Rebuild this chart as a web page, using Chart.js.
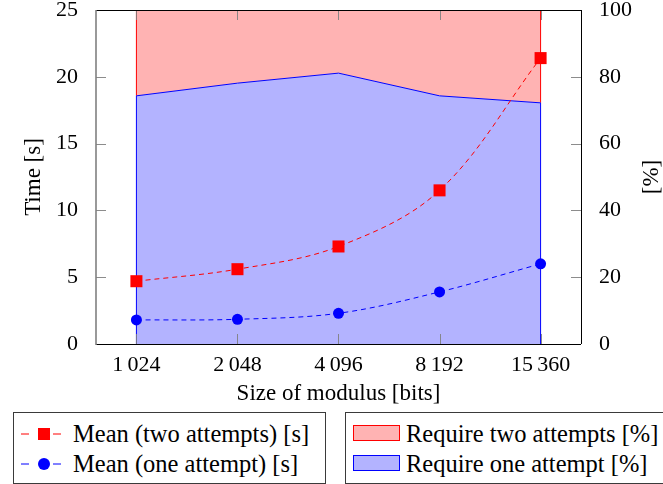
<!DOCTYPE html>
<html>
<head>
<meta charset="utf-8">
<script src="https://cdn.jsdelivr.net/npm/chart.js@4.4.1/dist/chart.umd.min.js"></script>
<style>
body { margin: 0; background: #fff; font-family: "Liberation Serif", serif; }
#wrap { position: relative; width: 663px; height: 484px; overflow: hidden; }
#box { position: absolute; left: 0; top: 0; width: 663px; height: 410px; }
.legend { position: absolute; top: 412px; height: 72px; border: 1px solid #3a3a3a; box-sizing: border-box; font-size: 24.5px; color: #000; }
.row { position: absolute; left: 0; height: 26px; line-height: 26px; white-space: nowrap; }
.row svg { position: absolute; }
.row span { position: absolute; }
</style>
</head>
<body>
<div id="wrap">
  <div id="box"><canvas id="myChart"></canvas></div>
  <div class="legend" style="left:13px;width:313px;">
    <div class="row" style="top:8px;">
      <svg width="42" height="16" style="left:7px;top:5px;"><line x1="0" y1="8" x2="8" y2="8" stroke="#f00"/><line x1="32" y1="8" x2="40" y2="8" stroke="#f00"/><rect x="17" y="2" width="12" height="12" fill="#f00"/></svg>
      <span style="left:59px;">Mean (two attempts) [s]</span>
    </div>
    <div class="row" style="top:38px;">
      <svg width="42" height="16" style="left:7px;top:5px;"><line x1="0" y1="8" x2="8" y2="8" stroke="#00f"/><line x1="32" y1="8" x2="40" y2="8" stroke="#00f"/><circle cx="23" cy="8" r="6" fill="#00f"/></svg>
      <span style="left:59px;">Mean (one attempt) [s]</span>
    </div>
  </div>
  <div class="legend" style="left:345px;width:330px;">
    <div class="row" style="top:8px;">
      <svg width="48" height="17" style="left:7px;top:4px;"><rect x="0.5" y="0.5" width="46" height="15" fill="#ffb3b3" stroke="#f00"/></svg>
      <span style="left:60px;">Require two attempts [%]</span>
    </div>
    <div class="row" style="top:38px;">
      <svg width="48" height="17" style="left:7px;top:4px;"><rect x="0.5" y="0.5" width="46" height="15" fill="#b3b3ff" stroke="#00f"/></svg>
      <span style="left:60px;">Require one attempt [%]</span>
    </div>
  </div>
</div>
<script>
const sizes = ['1\u2009024', '2\u2009048', '4\u2009096', '8\u2009192', '15\u2009360'];
const meanTwo = [4.7, 5.6, 7.3, 11.5, 21.4];
const meanOne = [1.8, 1.85, 2.3, 3.9, 6.0];
const pctOne = [74.3, 78.1, 81.1, 74.3, 72.2];
const pctTwo = [25.7, 21.9, 18.9, 25.7, 27.8];
const timeTicks = [0, 5, 10, 15, 20, 25];
const pctTicks = [0, 20, 40, 60, 80, 100];

const FONT = {family: '"Liberation Serif", serif', size: 22};
const TITLE_FONT = {family: '"Liberation Serif", serif', size: 23};

function pts(arr) {
	return arr.map(function(v, i) { return {x: i, y: v}; });
}

// ticks inside the box, frame, area edges and the right axis title
const boxPlugin = {
	id: 'boxPlugin',
	afterDatasetDraw(chart, args) {
		const ds = chart.data.datasets[args.index];
		if (!ds.fill) return;
		const ctx = chart.ctx, meta = args.meta;
		const first = meta.data[0], last = meta.data[meta.data.length - 1];
		let b0, b1;
		if (ds.fill === '-1') {
			const prev = chart.getDatasetMeta(args.index - 1).data;
			b0 = prev[0].y;
			b1 = prev[prev.length - 1].y;
		} else {
			b0 = b1 = chart.scales.y2.getPixelForValue(0);
		}
		ctx.save();
		ctx.strokeStyle = ds.borderColor;
		ctx.lineWidth = 1;
		ctx.beginPath();
		ctx.moveTo(first.x, b0); ctx.lineTo(first.x, first.y);
		ctx.moveTo(last.x, b1); ctx.lineTo(last.x, last.y);
		ctx.stroke();
		ctx.restore();
	},
	afterDatasetsDraw(chart) {
		const ctx = chart.ctx, a = chart.chartArea;
		const x = chart.scales.x, y = chart.scales.y, y2 = chart.scales.y2;
		const tl = 10;
		ctx.save();
		ctx.strokeStyle = 'rgba(128,128,128,0.9)';
		ctx.lineWidth = 1;
		ctx.beginPath();
		sizes.forEach(function(s, i) {
			const px = Math.round(x.getPixelForValue(i)) + 0.5;
			ctx.moveTo(px, a.bottom); ctx.lineTo(px, a.bottom - tl);
			ctx.moveTo(px, a.top); ctx.lineTo(px, a.top + tl);
		});
		timeTicks.forEach(function(v) {
			const py = Math.round(y.getPixelForValue(v)) + 0.5;
			ctx.moveTo(a.left, py); ctx.lineTo(a.left + tl, py);
		});
		pctTicks.forEach(function(v) {
			const py = Math.round(y2.getPixelForValue(v)) + 0.5;
			ctx.moveTo(a.right, py); ctx.lineTo(a.right - tl, py);
		});
		ctx.stroke();
		// frame
		ctx.strokeStyle = '#000';
		ctx.beginPath();
		ctx.moveTo(a.left, a.top + 0.5); ctx.lineTo(a.right, a.top + 0.5);
		ctx.moveTo(a.right + 0.5, a.top); ctx.lineTo(a.right + 0.5, a.bottom);
		ctx.moveTo(a.left, a.bottom + 0.5); ctx.lineTo(a.right, a.bottom + 0.5);
		ctx.stroke();
		ctx.strokeStyle = '#808080';
		ctx.lineWidth = 1.6;
		ctx.beginPath();
		ctx.moveTo(a.left, a.top); ctx.lineTo(a.left, a.bottom + 1);
		ctx.stroke();
		ctx.restore();
	},
	afterDraw(chart) {
		const ctx = chart.ctx, a = chart.chartArea;
		ctx.save();
		ctx.fillStyle = '#000';
		ctx.font = TITLE_FONT.size + 'px ' + TITLE_FONT.family;
		ctx.textAlign = 'center';
		ctx.textBaseline = 'middle';
		ctx.translate(652, (a.top + a.bottom) / 2);
		ctx.rotate(-Math.PI / 2);
		ctx.fillText('[%]', 0, 0);
		ctx.restore();
	}
};

function noPad(scale) {
	scale.paddingTop = 0;
	scale.paddingBottom = 0;
	scale.paddingLeft = 0;
	scale.paddingRight = 0;
}

const ctx = document.getElementById('myChart').getContext('2d');
const myChart = new Chart(ctx, {
	type: 'line',
	data: {
		datasets: [{
			label: 'Require one attempt [%]',
			data: pts(pctOne),
			yAxisID: 'y2',
			borderColor: '#0000ff',
			backgroundColor: '#b3b3ff',
			borderWidth: 1,
			fill: 'origin',
			pointRadius: 0,
			tension: 0,
			order: 2
		}, {
			label: 'Require two attempts [%]',
			data: pts(pctTwo),
			yAxisID: 'y2',
			borderColor: '#ff0000',
			backgroundColor: '#ffb3b3',
			borderWidth: 1,
			fill: '-1',
			pointRadius: 0,
			tension: 0,
			order: 2
		}, {
			label: 'Mean (two attempts) [s]',
			data: pts(meanTwo),
			yAxisID: 'y',
			borderColor: '#ff0000',
			backgroundColor: '#ff0000',
			borderWidth: 1,
			borderDash: [5, 4],
			pointStyle: 'rect',
			pointRadius: 8.5,
			pointBorderWidth: 0,
			tension: 0.35,
			fill: false,
			order: 0
		}, {
			label: 'Mean (one attempt) [s]',
			data: pts(meanOne),
			yAxisID: 'y',
			borderColor: '#0000ff',
			backgroundColor: '#0000ff',
			borderWidth: 1,
			borderDash: [5, 4],
			pointStyle: 'circle',
			pointRadius: 5.5,
			pointBorderWidth: 0,
			tension: 0.35,
			fill: false,
			order: 0
		}]
	},
	plugins: [boxPlugin],
	options: {
		responsive: true,
		maintainAspectRatio: false,
		animation: false,
		layout: {padding: {top: 10, left: 0, right: 0, bottom: 0}},
		plugins: {
			legend: {display: false},
			tooltip: {enabled: false}
		},
		scales: {
			x: {
				type: 'linear',
				min: -0.4,
				max: 4.4,
				afterBuildTicks: function(scale) {
					scale.ticks = sizes.map(function(s, i) { return {value: i}; });
				},
				afterFit: function(scale) { scale.height = 66; noPad(scale); },
				ticks: {
					callback: function(v) { return sizes[v]; },
					font: FONT, color: '#000', padding: 0, maxRotation: 0
				},
				grid: {display: false},
				border: {display: false},
				title: {display: true, text: 'Size of modulus [bits]', font: TITLE_FONT, color: '#000', padding: {top: 0, bottom: 2}}
			},
			y: {
				position: 'left',
				min: 0,
				max: 25,
				afterBuildTicks: function(scale) {
					scale.ticks = timeTicks.map(function(v) { return {value: v}; });
				},
				afterFit: function(scale) { scale.width = 96; noPad(scale); },
				ticks: {font: FONT, color: '#000', padding: 10},
				grid: {display: false},
				border: {display: false},
				title: {display: true, text: 'Time [s]', font: TITLE_FONT, color: '#000', padding: {top: 20, bottom: 0}}
			},
			y2: {
				position: 'right',
				stacked: true,
				min: 0,
				max: 100,
				afterBuildTicks: function(scale) {
					scale.ticks = pctTicks.map(function(v) { return {value: v}; });
				},
				afterFit: function(scale) { scale.width = 82; noPad(scale); },
				ticks: {font: FONT, color: '#000', padding: 10},
				grid: {display: false},
				border: {display: false}
			}
		}
	}
});
</script>
</body>
</html>
